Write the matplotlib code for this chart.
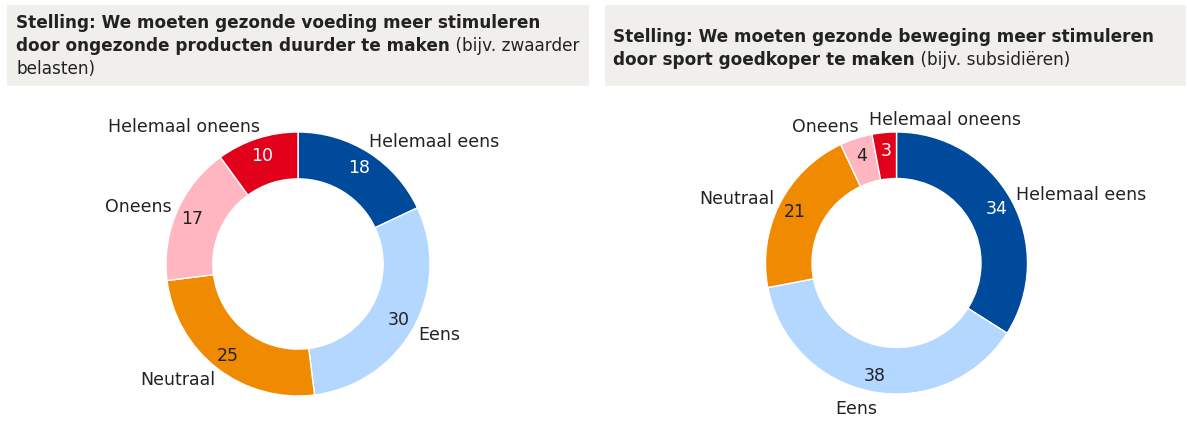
import matplotlib.pyplot as plt
from matplotlib.patches import Rectangle

plt.rcParams['font.family'] = ['DejaVu Sans']

W, H = 1187, 427

categories = ["Helemaal eens", "Eens", "Neutraal", "Oneens", "Helemaal oneens"]
colors = ["#004a9b", "#b3d7ff", "#f08a00", "#ffb6c1", "#e2001a"]
value_colors = ["white", "#222222", "#222222", "#222222", "white"]

voeding = [18, 30, 25, 17, 10]
beweging = [34, 38, 21, 4, 3]

title_left = [("Stelling: We moeten gezonde voeding meer stimuleren", ""),
              ("door ongezonde producten duurder te maken", " (bijv. zwaarder"),
              ("", "belasten)")]
title_right = [("Stelling: We moeten gezonde beweging meer stimuleren", ""),
               ("door sport goedkoper te maken", " (bijv. subsidiëren)")]

fig = plt.figure(figsize=(W / 100, H / 100), dpi=100)
fig.patch.set_facecolor("white")

# grey header boxes
for x0, x1 in [(7, 589), (605, 1186)]:
    fig.patches.append(Rectangle((x0 / W, 1 - 87 / H), (x1 - x0) / W, 81 / H,
                                 transform=fig.transFigure, facecolor="#f0efeb",
                                 edgecolor="none", zorder=0))

renderer = fig.canvas.get_renderer()


def header(lines, x, y0, step=23, size=12.2):
    for i, (bold, normal) in enumerate(lines):
        y = 1 - (y0 + i * step) / H
        xp = x
        if bold:
            t = fig.text(xp / W, y, bold, fontsize=size, fontweight="bold",
                         color="#222222", va="center")
            xp = t.get_window_extent(renderer).x1
        if normal:
            fig.text(xp / W, y, normal, fontsize=size, color="#222222", va="center")


header(title_left, 16, 23)
header(title_right, 613, 37)


def donut(cx, cy, r, values, label_fix=None):
    half = 150
    ax = fig.add_axes([(cx - half) / W, (H - cy - half) / H, 2 * half / W, 2 * half / H])
    wedges, texts, autotexts = ax.pie(
        values, labels=categories, colors=colors, startangle=90, counterclock=False,
        radius=1, labeldistance=1.1, pctdistance=0.87,
        autopct=lambda p: "", wedgeprops=dict(width=0.355, edgecolor="white", linewidth=1),
        textprops=dict(fontsize=12.5, color="#222222"))
    for at, v, c in zip(autotexts, values, value_colors):
        at.set_text(str(v))
        at.set_color(c)
        at.set_fontsize(12.5)
    # pull the category labels in a little horizontally
    for t in texts:
        x, y = t.get_position()
        t.set_position((x - 0.05 * (1 if x > 0 else -1), y))
    lim = half / r
    ax.set_xlim(-lim, lim)
    ax.set_ylim(-lim, lim)
    ax.set_aspect("equal")
    ax.axis("off")
    if label_fix:
        for idx, (pos, ha) in label_fix.items():
            texts[idx].set_position(pos)
            texts[idx].set_horizontalalignment(ha)
    return ax


donut(298, 265, 132, voeding)
donut(896.5, 264, 131, beweging,
      label_fix={4: ((-0.21, 1.1), "left"), 1: ((-0.15, -1.11), "right")})

fig.savefig("out.png", dpi=100, facecolor="white")
